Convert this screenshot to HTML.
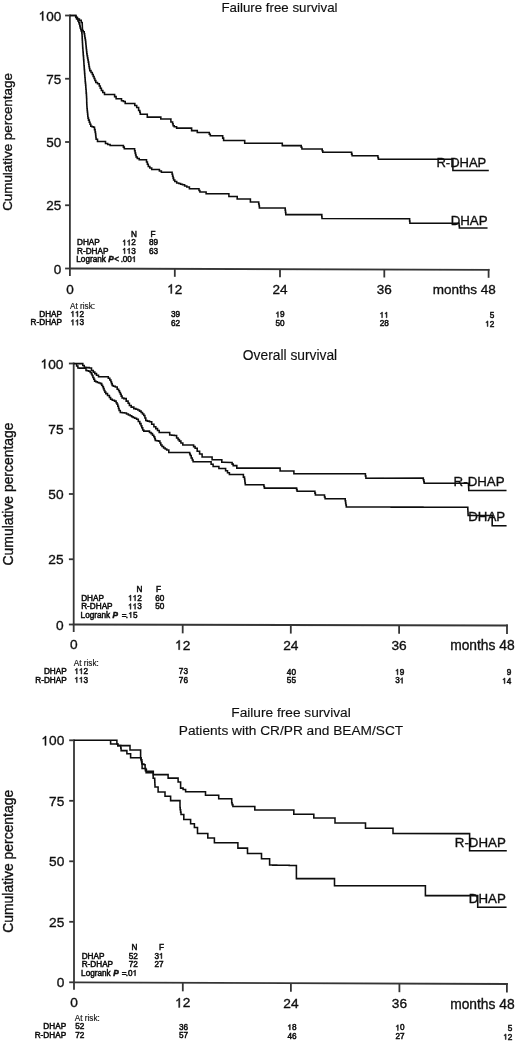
<!DOCTYPE html>
<html><head><meta charset="utf-8"><style>
html,body{margin:0;padding:0;background:#fff;}
body{width:520px;height:1042px;overflow:hidden;}
svg{display:block;will-change:transform;}
text{font-family:"Liberation Sans", sans-serif;fill:#111;}
path.b,path.s{fill:#111;vector-effect:non-scaling-stroke;}
.b{stroke:#111;stroke-width:0.35px;}
.s{stroke:#111;stroke-width:0.5px;}
.t{stroke:#111;stroke-width:0.15px;}
</style></head><body>
<svg width="520" height="1042" viewBox="0 0 520 1042">
<defs><filter id="bl" filterUnits="userSpaceOnUse" x="0" y="0" width="520" height="1042"><feGaussianBlur stdDeviation="0.3"/></filter></defs>
<g filter="url(#bl)">
<line x1="69.90" y1="14.60" x2="69.90" y2="276.00" stroke="#363636" stroke-width="1.8"/>
<line x1="69.00" y1="268.50" x2="489.50" y2="269.80" stroke="#363636" stroke-width="1.8"/>
<line x1="65.10" y1="15.50" x2="69.90" y2="15.50" stroke="#363636" stroke-width="1.8"/>
<path class="b" d="M696,0 L515,0 L515,1100 Q380,985 197,915 L197,1085 Q350,1150 450,1240 Q540,1320 560,1409 L696,1409 Z" transform="translate(38.68,20.60) scale(0.00659,-0.00659)"/>
<text x="46.18" y="20.60" font-size="13.5" class="b">00</text>
<line x1="65.10" y1="78.75" x2="69.90" y2="78.75" stroke="#363636" stroke-width="1.8"/>
<text x="61.20" y="83.85" font-size="13.5" text-anchor="end" class="b" >75</text>
<line x1="65.10" y1="142.00" x2="69.90" y2="142.00" stroke="#363636" stroke-width="1.8"/>
<text x="61.20" y="147.10" font-size="13.5" text-anchor="end" class="b" >50</text>
<line x1="65.10" y1="205.25" x2="69.90" y2="205.25" stroke="#363636" stroke-width="1.8"/>
<text x="61.20" y="210.35" font-size="13.5" text-anchor="end" class="b" >25</text>
<line x1="65.10" y1="268.50" x2="69.90" y2="268.50" stroke="#363636" stroke-width="1.8"/>
<text x="61.20" y="273.60" font-size="13.5" text-anchor="end" class="b" >0</text>
<text x="69.90" y="293.50" font-size="13.5" text-anchor="middle" class="b" >0</text>
<line x1="174.80" y1="268.83" x2="174.80" y2="276.83" stroke="#363636" stroke-width="1.8"/>
<path class="b" d="M696,0 L515,0 L515,1100 Q380,985 197,915 L197,1085 Q350,1150 450,1240 Q540,1320 560,1409 L696,1409 Z" transform="translate(167.29,293.50) scale(0.00659,-0.00659)"/>
<text x="174.80" y="293.50" font-size="13.5" class="b">2</text>
<line x1="280.00" y1="269.15" x2="280.00" y2="277.15" stroke="#363636" stroke-width="1.8"/>
<text x="280.00" y="293.50" font-size="13.5" text-anchor="middle" class="b" >24</text>
<line x1="384.30" y1="269.48" x2="384.30" y2="277.48" stroke="#363636" stroke-width="1.8"/>
<text x="384.30" y="293.50" font-size="13.5" text-anchor="middle" class="b" >36</text>
<line x1="488.60" y1="268.90" x2="488.60" y2="277.80" stroke="#363636" stroke-width="1.8"/>
<text x="495.80" y="293.50" font-size="13.5" text-anchor="end" class="b" >months 48</text>
<text x="0.00" y="0.00" font-size="13.4" text-anchor="middle" class="b" transform="translate(11.90,142.00) rotate(-90)">Cumulative percentage</text>
<text x="279.50" y="11.60" font-size="13.3" text-anchor="middle" class="t" >Failure free survival</text>
<text x="136.90" y="237.10" font-size="8.2" text-anchor="end" class="s" >N</text>
<text x="153.00" y="237.10" font-size="8.2" text-anchor="middle" class="s" >F</text>
<text x="77.00" y="245.40" font-size="8.2" text-anchor="start" class="s" >DHAP</text>
<path class="s" d="M696,0 L515,0 L515,1100 Q380,985 197,915 L197,1085 Q350,1150 450,1240 Q540,1320 560,1409 L696,1409 Z" transform="translate(122.22,245.40) scale(0.00400,-0.00400)"/>
<path class="s" d="M696,0 L515,0 L515,1100 Q380,985 197,915 L197,1085 Q350,1150 450,1240 Q540,1320 560,1409 L696,1409 Z" transform="translate(126.78,245.40) scale(0.00400,-0.00400)"/>
<text x="131.34" y="245.40" font-size="8.2" class="s">2</text>
<text x="158.00" y="245.40" font-size="8.2" text-anchor="end" class="s" >89</text>
<text x="77.00" y="253.70" font-size="8.2" text-anchor="start" class="s" >R-DHAP</text>
<path class="s" d="M696,0 L515,0 L515,1100 Q380,985 197,915 L197,1085 Q350,1150 450,1240 Q540,1320 560,1409 L696,1409 Z" transform="translate(122.22,253.70) scale(0.00400,-0.00400)"/>
<path class="s" d="M696,0 L515,0 L515,1100 Q380,985 197,915 L197,1085 Q350,1150 450,1240 Q540,1320 560,1409 L696,1409 Z" transform="translate(126.78,253.70) scale(0.00400,-0.00400)"/>
<text x="131.34" y="253.70" font-size="8.2" class="s">3</text>
<text x="158.00" y="253.70" font-size="8.2" text-anchor="end" class="s" >63</text>
<text x="76.30" y="262.00" font-size="8.2" text-anchor="start" class="s" >Logrank</text>
<text x="108.20" y="262.00" font-size="8.2" text-anchor="start" class="s" font-style="italic" font-weight="bold">P</text>
<text x="114.20" y="262.00" font-size="8.2" text-anchor="start" class="s" >&lt;</text>
<text x="120.80" y="262.00" font-size="8.2" text-anchor="start" class="s" >.</text>
<text x="122.75" y="262.00" font-size="8.2" class="s">00</text>
<path class="s" d="M696,0 L515,0 L515,1100 Q380,985 197,915 L197,1085 Q350,1150 450,1240 Q540,1320 560,1409 L696,1409 Z" transform="translate(131.87,262.00) scale(0.00400,-0.00400)"/>
<text x="70.00" y="309.00" font-size="8.2" text-anchor="start" class="t" >At risk:</text>
<text x="62.00" y="316.70" font-size="8.2" text-anchor="end" class="s" >DHAP</text>
<path class="s" d="M696,0 L515,0 L515,1100 Q380,985 197,915 L197,1085 Q350,1150 450,1240 Q540,1320 560,1409 L696,1409 Z" transform="translate(70.50,316.70) scale(0.00400,-0.00400)"/>
<path class="s" d="M696,0 L515,0 L515,1100 Q380,985 197,915 L197,1085 Q350,1150 450,1240 Q540,1320 560,1409 L696,1409 Z" transform="translate(75.06,316.70) scale(0.00400,-0.00400)"/>
<text x="79.62" y="316.70" font-size="8.2" class="s">2</text>
<text x="175.60" y="317.03" font-size="8.2" text-anchor="middle" class="s" >39</text>
<path class="s" d="M696,0 L515,0 L515,1100 Q380,985 197,915 L197,1085 Q350,1150 450,1240 Q540,1320 560,1409 L696,1409 Z" transform="translate(275.54,317.35) scale(0.00400,-0.00400)"/>
<text x="280.10" y="317.35" font-size="8.2" class="s">9</text>
<path class="s" d="M696,0 L515,0 L515,1100 Q380,985 197,915 L197,1085 Q350,1150 450,1240 Q540,1320 560,1409 L696,1409 Z" transform="translate(379.64,317.68) scale(0.00400,-0.00400)"/>
<path class="s" d="M696,0 L515,0 L515,1100 Q380,985 197,915 L197,1085 Q350,1150 450,1240 Q540,1320 560,1409 L696,1409 Z" transform="translate(384.20,317.68) scale(0.00400,-0.00400)"/>
<text x="494.30" y="318.02" font-size="8.2" text-anchor="end" class="s" >5</text>
<text x="62.00" y="325.20" font-size="8.2" text-anchor="end" class="s" >R-DHAP</text>
<path class="s" d="M696,0 L515,0 L515,1100 Q380,985 197,915 L197,1085 Q350,1150 450,1240 Q540,1320 560,1409 L696,1409 Z" transform="translate(70.50,325.20) scale(0.00400,-0.00400)"/>
<path class="s" d="M696,0 L515,0 L515,1100 Q380,985 197,915 L197,1085 Q350,1150 450,1240 Q540,1320 560,1409 L696,1409 Z" transform="translate(75.06,325.20) scale(0.00400,-0.00400)"/>
<text x="79.62" y="325.20" font-size="8.2" class="s">3</text>
<text x="175.60" y="325.53" font-size="8.2" text-anchor="middle" class="s" >62</text>
<text x="280.10" y="325.85" font-size="8.2" text-anchor="middle" class="s" >50</text>
<text x="384.20" y="326.18" font-size="8.2" text-anchor="middle" class="s" >28</text>
<path class="s" d="M696,0 L515,0 L515,1100 Q380,985 197,915 L197,1085 Q350,1150 450,1240 Q540,1320 560,1409 L696,1409 Z" transform="translate(485.18,326.52) scale(0.00400,-0.00400)"/>
<text x="489.74" y="326.52" font-size="8.2" class="s">2</text>
<polyline points="70.0,15.5 75.4,15.5 76.0,15.5 76.0,17.5 76.6,17.5 77.5,17.5 77.5,18.9 79.4,18.9 79.4,20.3 80.3,20.3 81.2,20.3 81.2,22.5 82.2,22.5 82.5,30.5 83.2,30.5 83.2,31.7 84.0,31.7 84.2,31.7 84.2,33.8 84.6,33.8 84.6,35.9 84.9,35.9 84.9,37.9 85.3,37.9 85.3,40.0 85.5,40.0 85.6,40.0 85.6,42.0 85.8,42.0 85.8,43.9 86.0,43.9 86.0,45.9 86.2,45.9 86.2,47.9 86.4,47.9 86.4,49.8 86.6,49.8 86.6,51.8 86.8,51.8 86.8,53.8 86.9,53.8 87.1,53.8 87.1,55.8 87.5,55.8 87.5,57.9 87.9,57.9 87.9,60.0 88.1,60.0 88.3,60.0 88.3,62.1 88.7,62.1 88.7,64.2 89.0,64.2 89.0,66.4 89.4,66.4 89.4,68.5 89.8,68.5 89.8,70.6 90.0,70.6 91.0,70.6 91.0,72.5 91.9,72.5 92.3,72.5 92.3,74.5 93.2,74.5 93.2,76.5 94.1,76.5 94.1,78.5 94.9,78.5 94.9,80.5 95.8,80.5 95.8,82.5 96.2,82.5 97.5,82.5 97.5,83.8 98.8,83.8 99.3,83.8 99.3,86.0 100.3,86.0 100.3,88.2 101.4,88.2 101.4,90.5 101.9,90.5 102.8,90.5 102.8,92.5 104.5,92.5 104.5,94.4 105.4,94.4 113.8,94.4 114.6,94.4 114.6,96.6 116.1,96.6 116.1,98.8 116.9,98.8 120.8,98.8 121.5,98.8 121.5,100.8 122.3,100.8 123.4,100.8 123.4,101.5 124.6,101.5 125.2,101.5 125.2,103.5 125.8,103.5 133.8,103.5 134.8,103.5 134.8,105.5 136.7,105.5 136.7,107.5 137.7,107.5 138.6,107.5 138.6,110.4 139.6,110.4 139.8,110.4 139.8,112.3 140.3,112.3 140.3,114.2 140.6,114.2 146.3,114.2 147.3,114.2 147.3,117.1 148.3,117.1 159.8,117.1 160.8,117.1 160.8,119.0 161.7,119.0 169.4,119.0 170.9,119.0 170.9,121.9 172.3,121.9 172.6,121.9 172.6,123.8 173.1,123.8 173.1,125.8 173.3,125.8 174.2,125.8 174.2,126.7 175.2,126.7 176.6,126.7 176.6,128.1 178.1,128.1 190.6,128.1 191.6,128.1 191.6,130.6 192.5,130.6 196.3,130.6 197.3,130.6 197.3,132.5 198.3,132.5 208.8,132.5 209.3,132.5 209.3,134.2 210.3,134.2 210.3,135.8 210.8,135.8 222.3,135.8 222.7,135.8 222.7,138.1 223.6,138.1 223.6,140.4 224.0,140.4 244.0,140.4 244.7,140.4 244.7,143.3 245.4,143.3 281.5,143.3 282.3,143.3 282.3,145.6 283.1,145.6 300.8,145.6 301.2,145.6 301.2,147.3 301.9,147.3 301.9,149.0 302.3,149.0 321.9,149.0 322.2,149.0 322.2,150.7 322.8,150.7 322.8,152.3 323.1,152.3 351.3,152.3 351.6,152.3 351.6,154.1 352.1,154.1 352.1,155.8 352.3,155.8 377.7,155.8 377.9,155.8 377.9,157.6 378.4,157.6 378.4,159.3 378.7,159.3 452.9,159.3 452.9,170.4 488.8,170.4" fill="none" stroke="#0c0c0c" stroke-width="1.55" stroke-linejoin="miter"/>
<polyline points="70.0,15.5 75.4,15.5 75.7,15.5 75.7,17.0 76.0,17.0 76.6,17.0 76.6,19.0 77.9,19.0 77.9,21.0 78.5,21.0 78.8,21.0 78.8,22.5 79.2,22.5 79.2,24.0 79.5,24.0 79.8,24.0 79.8,26.0 80.2,26.0 80.2,28.0 80.5,28.0 80.8,28.0 80.8,29.5 81.2,29.5 81.2,31.0 81.5,31.0 81.8,31.0 81.8,33.0 82.0,33.0 82.0,33.0 82.0,34.8 82.1,34.8 82.1,36.7 82.2,36.7 82.2,38.5 82.3,38.5 82.3,40.3 82.4,40.3 82.4,42.2 82.5,42.2 82.5,44.0 82.5,44.0 82.6,44.0 82.6,46.0 82.7,46.0 82.7,47.9 82.9,47.9 82.9,49.9 83.0,49.9 83.0,51.9 83.2,51.9 83.2,53.9 83.3,53.9 83.3,55.8 83.5,55.8 83.5,57.8 83.6,57.8 83.6,59.8 83.8,59.8 83.8,61.7 83.9,61.7 83.9,63.7 84.0,63.7 84.0,65.7 84.2,65.7 84.2,67.6 84.3,67.6 84.3,69.6 84.5,69.6 84.5,71.6 84.6,71.6 84.6,73.6 84.8,73.6 84.8,75.5 84.9,75.5 84.9,77.5 85.0,77.5 85.1,77.5 85.1,79.4 85.2,79.4 85.2,81.4 85.4,81.4 85.4,83.3 85.6,83.3 85.6,85.3 85.8,85.3 85.8,87.2 85.9,87.2 85.9,89.2 86.1,89.2 86.1,91.1 86.2,91.1 86.2,93.1 86.4,93.1 86.4,95.0 86.5,95.0 86.5,95.0 86.5,96.9 86.6,96.9 86.6,98.8 86.7,98.8 86.7,100.8 86.7,100.8 86.7,102.7 86.8,102.7 86.8,104.6 86.9,104.6 86.9,106.5 86.9,106.5 87.0,106.5 87.0,108.4 87.2,108.4 87.2,110.4 87.4,110.4 87.4,112.3 87.6,112.3 87.6,114.2 87.8,114.2 87.8,116.2 88.0,116.2 88.0,118.1 88.1,118.1 88.5,118.1 88.5,120.1 89.3,120.1 89.3,122.2 90.0,122.2 90.0,124.2 90.8,124.2 90.8,126.2 91.2,126.2 92.0,126.2 92.0,126.8 93.5,126.8 93.5,127.3 94.2,127.3 94.5,127.3 94.5,129.6 95.1,129.6 95.1,131.9 95.4,131.9 95.5,131.9 95.5,133.7 95.7,133.7 95.7,135.6 95.9,135.6 95.9,137.4 96.1,137.4 96.1,139.2 96.2,139.2 97.5,139.2 97.5,141.4 98.8,141.4 104.6,141.4 105.5,141.4 105.5,143.5 106.5,143.5 107.7,143.5 107.7,144.4 110.1,144.4 110.1,145.4 111.3,145.4 122.9,145.4 123.4,145.4 123.4,147.1 124.3,147.1 124.3,148.8 124.8,148.8 134.4,148.8 134.6,148.8 134.6,150.8 135.1,150.8 135.1,152.9 135.6,152.9 135.6,154.9 136.1,154.9 136.1,156.9 136.3,156.9 137.3,156.9 137.3,158.4 139.2,158.4 139.2,159.8 140.2,159.8 146.0,159.8 146.5,159.8 146.5,162.0 147.4,162.0 147.4,164.3 148.3,164.3 148.3,166.5 148.8,166.5 149.8,166.5 149.8,167.9 151.7,167.9 151.7,169.4 152.7,169.4 158.5,169.4 159.4,169.4 159.4,170.9 161.4,170.9 161.4,172.3 162.3,172.3 171.9,172.3 172.1,172.3 172.1,174.2 172.6,174.2 172.6,176.2 173.1,176.2 173.1,178.1 173.6,178.1 173.6,180.0 173.8,180.0 174.8,180.0 174.8,181.4 176.7,181.4 176.7,182.9 177.7,182.9 178.7,182.9 178.7,183.5 180.6,183.5 180.6,184.2 182.5,184.2 182.5,184.8 183.5,184.8 184.6,184.8 184.6,185.9 186.8,185.9 186.8,186.9 187.9,186.9 189.4,186.9 189.4,188.8 190.8,188.8 198.5,188.8 199.0,188.8 199.0,190.4 199.9,190.4 199.9,191.9 200.4,191.9 205.2,191.9 206.1,191.9 206.1,193.8 207.1,193.8 228.3,193.8 228.9,193.8 228.9,196.5 229.6,196.5 236.5,196.5 237.2,196.5 237.2,199.0 237.9,199.0 249.4,199.0 250.4,199.0 250.4,201.9 251.3,201.9 258.5,201.9 258.7,201.9 258.7,203.9 259.1,203.9 259.1,205.9 259.4,205.9 259.4,207.9 259.6,207.9 285.0,208.0 285.2,208.0 285.2,210.2 285.5,210.2 285.5,212.4 285.8,212.4 285.8,214.6 286.0,214.6 321.7,214.6 321.8,214.6 321.8,216.6 322.0,216.6 322.0,218.5 322.1,218.5 409.5,218.7 409.6,218.7 409.6,221.0 409.9,221.0 409.9,223.3 410.0,223.3 459.0,223.3 459.1,223.3 459.1,225.7 459.4,225.7 459.4,228.0 459.5,228.0 487.5,228.0" fill="none" stroke="#0c0c0c" stroke-width="1.55" stroke-linejoin="miter"/>
<text x="486.30" y="167.40" font-size="13.0" text-anchor="end" class="b" >R-DHAP</text>
<text x="487.60" y="225.40" font-size="13.3" text-anchor="end" class="b" >DHAP</text>
<line x1="73.70" y1="362.60" x2="73.70" y2="632.00" stroke="#363636" stroke-width="1.8"/>
<line x1="72.80" y1="624.50" x2="507.90" y2="625.50" stroke="#363636" stroke-width="1.8"/>
<line x1="68.90" y1="363.50" x2="73.70" y2="363.50" stroke="#363636" stroke-width="1.8"/>
<path class="b" d="M696,0 L515,0 L515,1100 Q380,985 197,915 L197,1085 Q350,1150 450,1240 Q540,1320 560,1409 L696,1409 Z" transform="translate(40.64,368.60) scale(0.00669,-0.00669)"/>
<text x="48.26" y="368.60" font-size="13.7" class="b">00</text>
<line x1="68.90" y1="428.75" x2="73.70" y2="428.75" stroke="#363636" stroke-width="1.8"/>
<text x="63.50" y="433.85" font-size="13.7" text-anchor="end" class="b" >75</text>
<line x1="68.90" y1="494.00" x2="73.70" y2="494.00" stroke="#363636" stroke-width="1.8"/>
<text x="63.50" y="499.10" font-size="13.7" text-anchor="end" class="b" >50</text>
<line x1="68.90" y1="559.25" x2="73.70" y2="559.25" stroke="#363636" stroke-width="1.8"/>
<text x="63.50" y="564.35" font-size="13.7" text-anchor="end" class="b" >25</text>
<line x1="68.90" y1="624.50" x2="73.70" y2="624.50" stroke="#363636" stroke-width="1.8"/>
<text x="63.50" y="629.60" font-size="13.7" text-anchor="end" class="b" >0</text>
<text x="73.70" y="649.40" font-size="13.7" text-anchor="middle" class="b" >0</text>
<line x1="182.70" y1="624.75" x2="182.70" y2="633.35" stroke="#363636" stroke-width="1.8"/>
<path class="b" d="M696,0 L515,0 L515,1100 Q380,985 197,915 L197,1085 Q350,1150 450,1240 Q540,1320 560,1409 L696,1409 Z" transform="translate(175.08,649.65) scale(0.00669,-0.00669)"/>
<text x="182.70" y="649.65" font-size="13.7" class="b">2</text>
<line x1="290.80" y1="625.00" x2="290.80" y2="633.60" stroke="#363636" stroke-width="1.8"/>
<text x="290.80" y="649.90" font-size="13.7" text-anchor="middle" class="b" >24</text>
<line x1="399.10" y1="625.25" x2="399.10" y2="633.85" stroke="#363636" stroke-width="1.8"/>
<text x="399.10" y="650.15" font-size="13.7" text-anchor="middle" class="b" >36</text>
<line x1="507.00" y1="624.60" x2="507.00" y2="634.10" stroke="#363636" stroke-width="1.8"/>
<text x="514.60" y="650.40" font-size="13.8" text-anchor="end" class="b" >months 48</text>
<text x="0.00" y="0.00" font-size="13.9" text-anchor="middle" class="b" transform="translate(12.80,494.00) rotate(-90)">Cumulative percentage</text>
<text x="290.00" y="359.90" font-size="13.8" text-anchor="middle" class="t" >Overall survival</text>
<text x="142.50" y="592.30" font-size="8.2" text-anchor="end" class="s" >N</text>
<text x="158.50" y="592.30" font-size="8.2" text-anchor="middle" class="s" >F</text>
<text x="81.20" y="600.75" font-size="8.2" text-anchor="start" class="s" >DHAP</text>
<path class="s" d="M696,0 L515,0 L515,1100 Q380,985 197,915 L197,1085 Q350,1150 450,1240 Q540,1320 560,1409 L696,1409 Z" transform="translate(128.12,600.75) scale(0.00400,-0.00400)"/>
<path class="s" d="M696,0 L515,0 L515,1100 Q380,985 197,915 L197,1085 Q350,1150 450,1240 Q540,1320 560,1409 L696,1409 Z" transform="translate(132.68,600.75) scale(0.00400,-0.00400)"/>
<text x="137.24" y="600.75" font-size="8.2" class="s">2</text>
<text x="164.30" y="600.75" font-size="8.2" text-anchor="end" class="s" >60</text>
<text x="81.20" y="609.20" font-size="8.2" text-anchor="start" class="s" >R-DHAP</text>
<path class="s" d="M696,0 L515,0 L515,1100 Q380,985 197,915 L197,1085 Q350,1150 450,1240 Q540,1320 560,1409 L696,1409 Z" transform="translate(128.12,609.20) scale(0.00400,-0.00400)"/>
<path class="s" d="M696,0 L515,0 L515,1100 Q380,985 197,915 L197,1085 Q350,1150 450,1240 Q540,1320 560,1409 L696,1409 Z" transform="translate(132.68,609.20) scale(0.00400,-0.00400)"/>
<text x="137.24" y="609.20" font-size="8.2" class="s">3</text>
<text x="164.30" y="609.20" font-size="8.2" text-anchor="end" class="s" >50</text>
<text x="80.60" y="617.65" font-size="8.2" text-anchor="start" class="s" >Logrank</text>
<text x="112.40" y="617.65" font-size="8.2" text-anchor="start" class="s" font-style="italic" font-weight="bold">P</text>
<text x="121.80" y="617.65" font-size="8.2" text-anchor="start" class="s" >=</text>
<text x="125.80" y="617.65" font-size="8.2" text-anchor="start" class="s" >.</text>
<path class="s" d="M696,0 L515,0 L515,1100 Q380,985 197,915 L197,1085 Q350,1150 450,1240 Q540,1320 560,1409 L696,1409 Z" transform="translate(128.40,617.65) scale(0.00400,-0.00400)"/>
<text x="132.96" y="617.65" font-size="8.2" class="s">5</text>
<text x="73.80" y="666.40" font-size="8.2" text-anchor="start" class="t" >At risk:</text>
<text x="66.70" y="674.00" font-size="8.2" text-anchor="end" class="s" >DHAP</text>
<path class="s" d="M696,0 L515,0 L515,1100 Q380,985 197,915 L197,1085 Q350,1150 450,1240 Q540,1320 560,1409 L696,1409 Z" transform="translate(74.40,674.00) scale(0.00400,-0.00400)"/>
<path class="s" d="M696,0 L515,0 L515,1100 Q380,985 197,915 L197,1085 Q350,1150 450,1240 Q540,1320 560,1409 L696,1409 Z" transform="translate(78.96,674.00) scale(0.00400,-0.00400)"/>
<text x="83.52" y="674.00" font-size="8.2" class="s">2</text>
<text x="183.40" y="674.25" font-size="8.2" text-anchor="middle" class="s" >73</text>
<text x="291.40" y="674.50" font-size="8.2" text-anchor="middle" class="s" >40</text>
<path class="s" d="M696,0 L515,0 L515,1100 Q380,985 197,915 L197,1085 Q350,1150 450,1240 Q540,1320 560,1409 L696,1409 Z" transform="translate(395.14,674.75) scale(0.00400,-0.00400)"/>
<text x="399.70" y="674.75" font-size="8.2" class="s">9</text>
<text x="511.30" y="675.01" font-size="8.2" text-anchor="end" class="s" >9</text>
<text x="66.70" y="682.60" font-size="8.2" text-anchor="end" class="s" >R-DHAP</text>
<path class="s" d="M696,0 L515,0 L515,1100 Q380,985 197,915 L197,1085 Q350,1150 450,1240 Q540,1320 560,1409 L696,1409 Z" transform="translate(74.40,682.60) scale(0.00400,-0.00400)"/>
<path class="s" d="M696,0 L515,0 L515,1100 Q380,985 197,915 L197,1085 Q350,1150 450,1240 Q540,1320 560,1409 L696,1409 Z" transform="translate(78.96,682.60) scale(0.00400,-0.00400)"/>
<text x="83.52" y="682.60" font-size="8.2" class="s">3</text>
<text x="183.40" y="682.85" font-size="8.2" text-anchor="middle" class="s" >76</text>
<text x="291.40" y="683.10" font-size="8.2" text-anchor="middle" class="s" >55</text>
<text x="395.14" y="683.35" font-size="8.2" class="s">3</text>
<path class="s" d="M696,0 L515,0 L515,1100 Q380,985 197,915 L197,1085 Q350,1150 450,1240 Q540,1320 560,1409 L696,1409 Z" transform="translate(399.70,683.35) scale(0.00400,-0.00400)"/>
<path class="s" d="M696,0 L515,0 L515,1100 Q380,985 197,915 L197,1085 Q350,1150 450,1240 Q540,1320 560,1409 L696,1409 Z" transform="translate(502.18,683.61) scale(0.00400,-0.00400)"/>
<text x="506.74" y="683.61" font-size="8.2" class="s">4</text>
<polyline points="73.7,363.6 82.2,363.6 82.8,363.6 82.8,365.5 83.5,365.5 84.2,365.5 84.2,367.2 85.0,367.2 85.8,367.2 85.8,367.4 87.2,367.4 87.2,367.6 88.0,367.6 89.3,367.6 89.3,368.0 90.6,368.0 91.5,368.0 91.5,370.5 92.5,370.5 93.3,370.5 93.3,372.1 94.8,372.1 94.8,373.6 95.6,373.6 96.5,373.6 96.5,375.2 98.5,375.2 98.5,376.8 99.4,376.8 107.5,376.8 108.3,376.8 108.3,378.3 109.8,378.3 109.8,379.9 110.6,379.9 110.9,379.9 110.9,381.8 111.5,381.8 111.5,383.6 112.2,383.6 112.2,385.5 112.5,385.5 113.4,385.5 113.4,386.2 115.3,386.2 115.3,387.0 116.2,387.0 117.2,387.0 117.2,389.2 118.1,389.2 118.6,389.2 118.6,390.8 119.5,390.8 119.5,392.4 120.0,392.4 120.4,392.4 120.4,394.3 121.2,394.3 121.2,396.1 122.1,396.1 122.1,398.0 122.5,398.0 123.8,398.0 123.8,398.6 125.0,398.6 126.2,398.6 126.2,401.1 127.5,401.1 128.1,401.1 128.1,403.3 129.4,403.3 129.4,405.5 130.0,405.5 131.2,405.5 131.2,407.1 133.8,407.1 133.8,408.6 135.0,408.6 135.9,408.6 135.9,409.2 137.8,409.2 137.8,409.9 138.8,409.9 139.5,409.9 139.5,411.1 141.1,411.1 141.1,412.4 141.9,412.4 142.5,412.4 142.5,413.9 143.8,413.9 143.8,415.5 144.4,415.5 144.9,415.5 144.9,418.0 145.8,418.0 145.8,420.5 146.2,420.5 147.3,420.5 147.3,421.1 149.5,421.1 149.5,421.8 150.6,421.8 151.7,421.8 151.7,424.2 153.9,424.2 153.9,426.8 155.0,426.8 155.8,426.8 155.8,428.6 157.5,428.6 157.5,430.5 159.2,430.5 159.2,432.4 160.0,432.4 168.8,432.4 169.7,432.4 169.7,434.9 170.6,434.9 171.8,434.9 171.8,435.2 174.3,435.2 174.3,435.5 175.6,435.5 176.6,435.5 176.6,438.0 177.5,438.0 178.1,438.0 178.1,439.6 179.4,439.6 179.4,441.1 180.0,441.1 180.9,441.1 180.9,443.0 182.8,443.0 182.8,444.9 183.8,444.9 192.9,445.0 193.6,445.0 193.6,446.6 195.1,446.6 195.1,448.3 195.8,448.3 197.2,448.3 197.2,451.2 198.7,451.2 199.6,451.2 199.6,454.0 200.6,454.0 202.1,454.0 202.1,456.9 203.5,456.9 211.2,456.9 212.1,456.9 212.1,459.8 213.1,459.8 220.8,459.8 221.8,459.8 221.8,462.3 222.7,462.3 231.5,462.5 232.1,462.5 232.1,464.1 233.2,464.1 233.2,465.6 233.8,465.6 235.8,465.6 236.8,465.6 236.8,468.1 237.7,468.1 279.6,468.1 280.1,468.1 280.1,471.0 280.6,471.0 293.5,471.0 293.9,471.0 293.9,473.7 294.4,473.7 365.2,473.8 365.4,473.8 365.4,476.0 365.9,476.0 365.9,478.2 366.2,478.2 423.1,478.1 423.3,478.1 423.3,479.8 423.8,479.8 423.8,481.6 424.2,481.6 424.2,483.3 424.4,483.3 468.5,483.3 468.5,483.3 468.5,485.1 468.6,485.1 468.6,486.9 468.7,486.9 468.7,488.7 468.8,488.7 468.8,490.5 468.8,490.5 506.5,490.5" fill="none" stroke="#0c0c0c" stroke-width="1.55" stroke-linejoin="miter"/>
<polyline points="76.0,364.0 76.6,364.0 76.6,366.0 77.9,366.0 77.9,368.0 78.5,368.0 79.4,368.0 79.4,368.1 81.1,368.1 81.1,368.1 82.9,368.1 82.9,368.2 84.6,368.2 84.6,368.3 85.5,368.3 86.0,368.3 86.0,370.4 86.4,370.4 87.2,370.4 87.2,370.8 88.7,370.8 88.7,371.2 89.5,371.2 90.2,371.2 90.2,372.5 91.0,372.5 91.4,372.5 91.4,374.0 92.1,374.0 92.1,375.5 92.5,375.5 92.9,375.5 92.9,377.4 93.8,377.4 93.8,379.2 94.6,379.2 94.6,381.1 95.0,381.1 95.8,381.1 95.8,381.8 97.3,381.8 97.3,382.4 98.1,382.4 98.9,382.4 98.9,383.0 100.5,383.0 100.5,383.6 101.2,383.6 101.7,383.6 101.7,385.2 102.6,385.2 102.6,386.8 103.1,386.8 103.4,386.8 103.4,388.6 104.1,388.6 104.1,390.5 104.4,390.5 104.9,390.5 104.9,392.1 105.8,392.1 105.8,393.6 106.2,393.6 107.5,393.6 107.5,395.5 108.8,395.5 109.4,395.5 109.4,397.4 110.6,397.4 110.6,399.2 111.2,399.2 112.3,399.2 112.3,400.2 114.5,400.2 114.5,401.1 115.6,401.1 116.1,401.1 116.1,402.7 117.0,402.7 117.0,404.2 117.5,404.2 117.8,404.2 117.8,406.3 118.5,406.3 118.5,408.4 119.1,408.4 119.1,410.5 119.4,410.5 120.3,410.5 120.3,412.4 121.2,412.4 122.3,412.4 122.3,412.7 124.5,412.7 124.5,413.0 125.6,413.0 126.5,413.0 126.5,413.9 128.4,413.9 128.4,414.9 129.4,414.9 130.2,414.9 130.2,415.8 131.7,415.8 131.7,416.8 132.5,416.8 133.1,416.8 133.1,417.4 133.8,417.4 134.7,417.4 134.7,418.3 136.6,418.3 136.6,419.2 137.5,419.2 138.3,419.2 138.3,421.4 139.8,421.4 139.8,423.6 140.6,423.6 141.0,423.6 141.0,425.7 141.8,425.7 141.8,427.8 142.7,427.8 142.7,429.9 143.1,429.9 143.8,429.9 143.8,431.1 144.4,431.1 148.8,431.1 149.5,431.1 149.5,432.4 151.1,432.4 151.1,433.6 151.9,433.6 152.5,433.6 152.5,435.2 153.8,435.2 153.8,436.8 154.4,436.8 154.7,436.8 154.7,438.6 155.3,438.6 155.3,440.5 155.6,440.5 156.6,440.5 156.6,440.8 158.4,440.8 158.4,441.1 159.4,441.1 159.9,441.1 159.9,443.0 160.8,443.0 160.8,444.9 161.2,444.9 162.0,444.9 162.0,446.4 163.6,446.4 163.6,448.0 164.4,448.0 165.2,448.0 165.2,448.9 166.7,448.9 166.7,449.9 167.5,449.9 168.8,449.9 168.8,452.4 170.0,452.4 189.4,452.4 189.7,452.4 189.7,453.9 190.3,453.9 190.3,455.5 190.6,455.5 191.2,455.5 191.2,458.0 191.9,458.0 192.3,458.0 192.3,459.9 193.1,459.9 193.1,461.7 193.5,461.7 210.2,461.7 211.1,461.7 211.1,464.2 212.1,464.2 213.1,464.2 213.1,466.5 214.0,466.5 217.9,466.5 218.9,466.5 218.9,468.5 219.8,468.5 224.6,468.5 225.6,468.5 225.6,470.8 226.5,470.8 227.5,470.8 227.5,472.7 228.5,472.7 229.4,472.7 229.4,474.4 230.4,474.4 242.5,474.4 243.4,474.4 243.4,477.1 244.4,477.1 244.5,477.1 244.5,479.0 244.8,479.0 244.8,481.0 245.0,481.0 245.0,482.9 245.3,482.9 245.3,484.8 245.4,484.8 263.7,484.8 263.9,484.8 263.9,486.5 264.4,486.5 264.4,488.1 264.6,488.1 296.3,488.1 296.6,488.1 296.6,489.6 297.1,489.6 297.1,491.2 297.3,491.2 314.6,491.2 314.9,491.2 314.9,493.1 315.4,493.1 315.4,495.0 315.6,495.0 324.2,495.0 324.5,495.0 324.5,496.9 325.1,496.9 325.1,498.8 325.4,498.8 345.0,498.8 345.2,498.8 345.2,500.8 345.6,500.8 345.6,502.9 345.9,502.9 345.9,504.9 346.3,504.9 346.3,506.9 346.5,506.9 347.5,506.9 347.5,506.9 349.5,506.9 349.5,506.9 351.5,506.9 351.5,506.9 353.5,506.9 353.5,506.9 355.4,506.9 355.4,506.9 357.4,506.9 357.4,506.9 359.4,506.9 359.4,506.9 361.4,506.9 361.4,507.0 363.4,507.0 363.4,507.0 365.4,507.0 365.4,507.0 367.4,507.0 367.4,507.0 369.3,507.0 369.3,507.0 371.3,507.0 371.3,507.0 373.3,507.0 373.3,507.0 375.3,507.0 375.3,507.0 377.3,507.0 377.3,507.0 379.3,507.0 379.3,507.0 381.3,507.0 381.3,507.0 383.3,507.0 383.3,507.0 385.2,507.0 385.2,507.0 387.2,507.0 387.2,507.0 389.2,507.0 389.2,507.0 391.2,507.0 391.2,507.1 393.2,507.1 393.2,507.1 395.2,507.1 395.2,507.1 397.2,507.1 397.2,507.1 399.2,507.1 399.2,507.1 401.1,507.1 401.1,507.1 403.1,507.1 403.1,507.1 405.1,507.1 405.1,507.1 407.1,507.1 407.1,507.1 409.1,507.1 409.1,507.1 411.1,507.1 411.1,507.1 413.1,507.1 413.1,507.1 415.0,507.1 415.0,507.1 417.0,507.1 417.0,507.1 419.0,507.1 419.0,507.1 421.0,507.1 421.0,507.1 423.0,507.1 423.0,507.2 425.0,507.2 425.0,507.2 427.0,507.2 427.0,507.2 429.0,507.2 429.0,507.2 430.9,507.2 430.9,507.2 432.9,507.2 432.9,507.2 434.9,507.2 434.9,507.2 436.9,507.2 436.9,507.2 438.9,507.2 438.9,507.2 440.9,507.2 440.9,507.2 442.9,507.2 442.9,507.2 444.9,507.2 444.9,507.2 446.8,507.2 446.8,507.2 448.8,507.2 448.8,507.2 450.8,507.2 450.8,507.2 452.8,507.2 452.8,507.3 454.8,507.3 454.8,507.3 456.8,507.3 456.8,507.3 458.8,507.3 458.8,507.3 460.7,507.3 460.7,507.3 462.7,507.3 462.7,507.3 464.7,507.3 464.7,507.3 466.7,507.3 466.7,507.3 467.7,507.3 467.8,507.3 467.8,509.3 467.9,509.3 467.9,511.4 468.0,511.4 468.0,513.4 468.1,513.4 468.1,515.4 468.2,515.4 492.2,515.4 492.2,525.8 506.6,525.8" fill="none" stroke="#0c0c0c" stroke-width="1.55" stroke-linejoin="miter"/>
<text x="504.60" y="486.30" font-size="13.3" text-anchor="end" class="b" >R-DHAP</text>
<text x="505.20" y="521.40" font-size="13.3" text-anchor="end" class="b" >DHAP</text>
<line x1="74.00" y1="739.40" x2="74.00" y2="989.80" stroke="#363636" stroke-width="1.8"/>
<line x1="73.10" y1="982.30" x2="507.80" y2="984.00" stroke="#363636" stroke-width="1.8"/>
<line x1="69.20" y1="740.30" x2="74.00" y2="740.30" stroke="#363636" stroke-width="1.8"/>
<path class="b" d="M696,0 L515,0 L515,1100 Q380,985 197,915 L197,1085 Q350,1150 450,1240 Q540,1320 560,1409 L696,1409 Z" transform="translate(41.44,745.40) scale(0.00669,-0.00669)"/>
<text x="49.06" y="745.40" font-size="13.7" class="b">00</text>
<line x1="69.20" y1="800.80" x2="74.00" y2="800.80" stroke="#363636" stroke-width="1.8"/>
<text x="64.30" y="805.90" font-size="13.7" text-anchor="end" class="b" >75</text>
<line x1="69.20" y1="861.30" x2="74.00" y2="861.30" stroke="#363636" stroke-width="1.8"/>
<text x="64.30" y="866.40" font-size="13.7" text-anchor="end" class="b" >50</text>
<line x1="69.20" y1="921.80" x2="74.00" y2="921.80" stroke="#363636" stroke-width="1.8"/>
<text x="64.30" y="926.90" font-size="13.7" text-anchor="end" class="b" >25</text>
<line x1="69.20" y1="982.30" x2="74.00" y2="982.30" stroke="#363636" stroke-width="1.8"/>
<text x="64.30" y="987.40" font-size="13.7" text-anchor="end" class="b" >0</text>
<text x="74.00" y="1007.00" font-size="13.7" text-anchor="middle" class="b" >0</text>
<line x1="182.80" y1="982.73" x2="182.80" y2="991.33" stroke="#363636" stroke-width="1.8"/>
<path class="b" d="M696,0 L515,0 L515,1100 Q380,985 197,915 L197,1085 Q350,1150 450,1240 Q540,1320 560,1409 L696,1409 Z" transform="translate(175.18,1007.43) scale(0.00669,-0.00669)"/>
<text x="182.80" y="1007.43" font-size="13.7" class="b">2</text>
<line x1="290.90" y1="983.15" x2="290.90" y2="991.75" stroke="#363636" stroke-width="1.8"/>
<text x="290.90" y="1007.85" font-size="13.7" text-anchor="middle" class="b" >24</text>
<line x1="399.40" y1="983.58" x2="399.40" y2="992.18" stroke="#363636" stroke-width="1.8"/>
<text x="399.40" y="1008.28" font-size="13.7" text-anchor="middle" class="b" >36</text>
<line x1="506.90" y1="983.10" x2="506.90" y2="992.60" stroke="#363636" stroke-width="1.8"/>
<text x="514.60" y="1008.70" font-size="13.8" text-anchor="end" class="b" >months 48</text>
<text x="0.00" y="0.00" font-size="13.9" text-anchor="middle" class="b" transform="translate(13.20,861.30) rotate(-90)">Cumulative percentage</text>
<text x="291.00" y="717.30" font-size="13.7" text-anchor="middle" class="t" >Failure free survival</text>
<text x="291.00" y="734.60" font-size="13.7" text-anchor="middle" class="t" >Patients with CR/PR and BEAM/SCT</text>
<text x="137.40" y="950.20" font-size="8.2" text-anchor="end" class="s" >N</text>
<text x="161.50" y="950.20" font-size="8.2" text-anchor="middle" class="s" >F</text>
<text x="81.70" y="958.70" font-size="8.2" text-anchor="start" class="s" >DHAP</text>
<text x="137.90" y="958.70" font-size="8.2" text-anchor="end" class="s" >52</text>
<text x="154.48" y="958.70" font-size="8.2" class="s">3</text>
<path class="s" d="M696,0 L515,0 L515,1100 Q380,985 197,915 L197,1085 Q350,1150 450,1240 Q540,1320 560,1409 L696,1409 Z" transform="translate(159.04,958.70) scale(0.00400,-0.00400)"/>
<text x="81.70" y="967.20" font-size="8.2" text-anchor="start" class="s" >R-DHAP</text>
<text x="137.90" y="967.20" font-size="8.2" text-anchor="end" class="s" >72</text>
<text x="163.60" y="967.20" font-size="8.2" text-anchor="end" class="s" >27</text>
<text x="81.10" y="975.70" font-size="8.2" text-anchor="start" class="s" >Logrank</text>
<text x="113.20" y="975.70" font-size="8.2" text-anchor="start" class="s" font-style="italic" font-weight="bold">P</text>
<text x="121.80" y="975.70" font-size="8.2" text-anchor="start" class="s" >=</text>
<text x="125.80" y="975.70" font-size="8.2" text-anchor="start" class="s" >.</text>
<text x="128.10" y="975.70" font-size="8.2" class="s">0</text>
<path class="s" d="M696,0 L515,0 L515,1100 Q380,985 197,915 L197,1085 Q350,1150 450,1240 Q540,1320 560,1409 L696,1409 Z" transform="translate(132.66,975.70) scale(0.00400,-0.00400)"/>
<text x="74.80" y="1021.20" font-size="8.2" text-anchor="start" class="t" >At risk:</text>
<text x="66.10" y="1029.20" font-size="8.2" text-anchor="end" class="s" >DHAP</text>
<text x="75.20" y="1029.20" font-size="8.2" text-anchor="start" class="s" >52</text>
<text x="183.50" y="1029.63" font-size="8.2" text-anchor="middle" class="s" >36</text>
<path class="s" d="M696,0 L515,0 L515,1100 Q380,985 197,915 L197,1085 Q350,1150 450,1240 Q540,1320 560,1409 L696,1409 Z" transform="translate(287.44,1030.06) scale(0.00400,-0.00400)"/>
<text x="292.00" y="1030.06" font-size="8.2" class="s">8</text>
<path class="s" d="M696,0 L515,0 L515,1100 Q380,985 197,915 L197,1085 Q350,1150 450,1240 Q540,1320 560,1409 L696,1409 Z" transform="translate(395.44,1030.48) scale(0.00400,-0.00400)"/>
<text x="400.00" y="1030.48" font-size="8.2" class="s">0</text>
<text x="512.40" y="1030.92" font-size="8.2" text-anchor="end" class="s" >5</text>
<text x="66.10" y="1037.80" font-size="8.2" text-anchor="end" class="s" >R-DHAP</text>
<text x="75.20" y="1037.80" font-size="8.2" text-anchor="start" class="s" >72</text>
<text x="183.50" y="1038.23" font-size="8.2" text-anchor="middle" class="s" >57</text>
<text x="292.00" y="1038.66" font-size="8.2" text-anchor="middle" class="s" >46</text>
<text x="400.00" y="1039.08" font-size="8.2" text-anchor="middle" class="s" >27</text>
<path class="s" d="M696,0 L515,0 L515,1100 Q380,985 197,915 L197,1085 Q350,1150 450,1240 Q540,1320 560,1409 L696,1409 Z" transform="translate(503.28,1039.52) scale(0.00400,-0.00400)"/>
<text x="507.84" y="1039.52" font-size="8.2" class="s">2</text>
<polyline points="74.0,740.2 116.9,740.2 116.9,744.0 117.8,744.0 117.8,745.6 118.8,745.6 130.0,745.6 130.0,750.0 140.6,750.0 140.6,757.7 141.0,757.7 141.0,759.7 141.4,759.7 141.6,759.7 141.6,761.7 141.9,761.7 141.9,763.7 142.1,763.7 142.8,763.7 142.8,764.2 144.3,764.2 144.3,764.8 145.1,764.8 145.1,768.5 145.8,768.5 145.8,769.5 146.4,769.5 146.4,771.2 153.3,771.2 153.3,774.6 168.1,774.6 168.1,778.1 178.1,778.1 178.1,781.9 180.6,781.9 180.6,788.1 183.1,788.1 183.1,789.4 185.6,789.4 185.6,791.8 205.5,791.8 205.5,795.2 218.7,795.2 218.7,798.8 231.7,798.8 231.7,802.7 232.1,802.7 232.1,804.6 232.9,804.6 232.9,806.5 233.3,806.5 254.8,806.5 254.8,810.0 293.8,810.0 293.8,814.2 313.8,814.2 313.8,818.0 335.0,818.0 335.0,823.0 365.5,823.0 365.5,828.2 393.0,828.2 393.0,833.5 469.6,833.6 469.6,850.7 506.8,850.7" fill="none" stroke="#0c0c0c" stroke-width="1.55" stroke-linejoin="miter"/>
<polyline points="110.6,740.2 110.6,744.0 116.9,744.0 117.8,744.0 117.8,745.6 118.8,745.6 120.6,745.6 120.8,745.6 120.8,748.1 121.1,748.1 121.1,750.6 121.2,750.6 126.9,750.6 126.9,753.8 130.6,753.8 130.6,757.7 140.7,757.7 141.1,757.7 141.1,759.7 141.4,759.7 141.6,759.7 141.6,761.7 141.9,761.7 141.9,763.7 142.1,763.7 142.1,768.5 145.1,768.5 145.4,768.5 145.4,770.6 146.1,770.6 146.1,772.8 146.4,772.8 153.2,772.8 153.2,778.2 154.7,778.2 154.7,778.2 154.7,780.4 154.8,780.4 154.8,782.5 154.9,782.5 154.9,784.7 155.0,784.7 155.0,786.9 155.0,786.9 158.1,786.9 158.1,791.9 165.0,791.9 165.0,796.2 170.6,796.2 170.6,800.6 180.0,800.6 180.0,807.5 180.2,807.5 180.2,809.8 180.6,809.8 180.6,812.1 181.0,812.1 181.0,814.4 181.2,814.4 183.8,814.4 183.8,819.4 190.6,819.4 190.6,823.8 194.4,823.8 194.4,827.5 197.5,827.5 197.5,833.5 207.8,833.5 207.8,837.9 214.4,837.9 214.4,842.8 237.9,842.8 237.9,848.1 247.5,848.1 247.5,853.5 261.5,853.5 261.5,858.8 269.6,858.8 269.6,865.0 270.6,865.0 270.6,865.0 272.7,865.0 272.7,865.1 274.8,865.1 274.8,865.1 276.8,865.1 276.8,865.2 278.9,865.2 278.9,865.2 280.9,865.2 280.9,865.2 283.0,865.2 283.0,865.3 285.1,865.3 285.1,865.3 287.1,865.3 287.1,865.3 289.2,865.3 289.2,865.4 291.2,865.4 291.2,865.4 293.3,865.4 293.3,865.5 295.4,865.5 295.4,865.5 296.4,865.5 296.4,878.6 334.5,878.6 334.5,885.8 425.4,885.8 425.4,895.6 477.7,895.6 477.7,907.2 506.6,907.2" fill="none" stroke="#0c0c0c" stroke-width="1.55" stroke-linejoin="miter"/>
<text x="505.80" y="846.70" font-size="13.3" text-anchor="end" class="b" >R-DHAP</text>
<text x="505.80" y="903.40" font-size="13.3" text-anchor="end" class="b" >DHAP</text>
</g>
</svg></body></html>
